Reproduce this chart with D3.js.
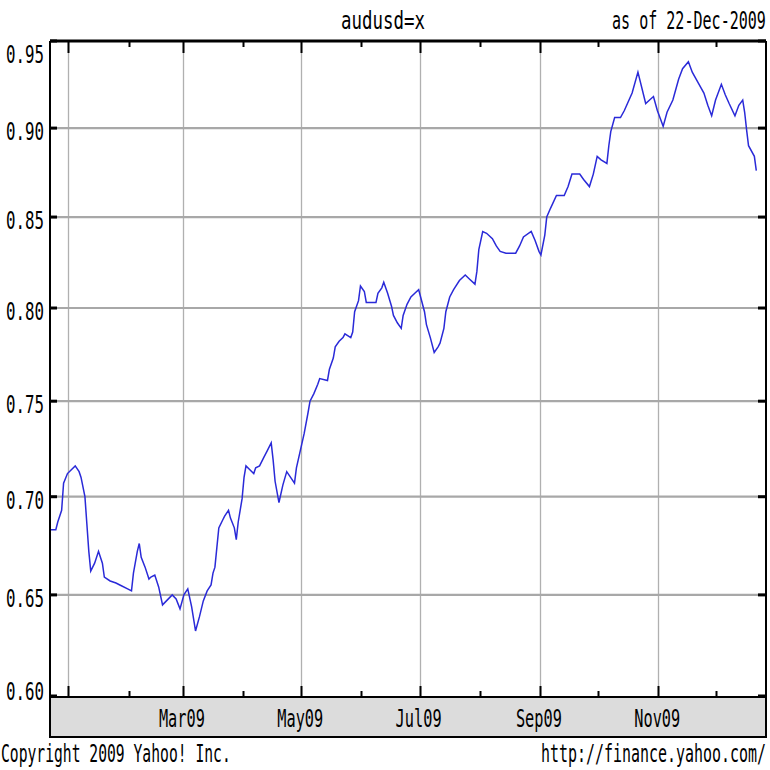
<!DOCTYPE html>
<html>
<head>
<meta charset="utf-8">
<script src="https://cdn.jsdelivr.net/npm/d3@7"></script>
<style>
  html, body { margin: 0; padding: 0; background: #fff; }
  svg { display: block; }
  text { font-family: "DejaVu Sans Mono", "Liberation Mono", monospace; fill: #000; }
</style>
</head>
<body>
<svg id="chart" width="770" height="770"></svg>
<script>
// ---------------- data ----------------
const symbol = "audusd=x";
const asOfText = "as of 22-Dec-2009";
const copyrightText = "Copyright 2009 Yahoo! Inc.";
const urlText = "http://finance.yahoo.com/";

const startDate = "2008-12-22";
const endDate = "2009-12-26";

// days since startDate
const dayOffsets = [
  0,3,4,6,7,9,11,13,15,16,
  18,19,20,21,23,25,27,28,31,34,
  36,40,42,43,45,46,47,49,51,52,
  54,56,58,60,62,63,65,67,69,71,
  73,75,77,79,81,83,84,85,86,87,
  89,90,92,93,95,96,97,99,100,101,
  103,105,106,108,110,112,114,115,116,118,
  120,122,124,126,127,129,131,133,134,136,
  138,139,143,144,146,147,149,151,152,155,
  156,157,159,160,162,163,168,169,171,172,
  174,176,177,179,181,182,184,186,188,190,
  191,193,194,196,198,200,201,203,204,206,
  208,211,214,216,219,220,221,223,225,228,
  230,232,235,240,242,244,248,250,252,253,
  255,256,258,261,265,267,269,273,275,278,
  280,282,284,287,288,289,291,294,296,298,
  300,303,307,309,311,313,316,318,321,324,
  326,329,331,334,337,339,341,343,346,348,
  350,353,355,357,358,359,360,363,364
];

const closes = [
  .683,.683,.687,.693,.707,.712,.714,.716,.713,.710,
  .700,.686,.672,.662,.666,.672,.666,.659,.657,.656,
  .655,.653,.652,.661,.672,.676,.669,.664,.658,.659,
  .660,.654,.645,.647,.649,.650,.648,.643,.650,.653,
  .644,.632,.639,.647,.652,.655,.661,.664,.674,.684,
  .688,.690,.693,.689,.684,.678,.687,.699,.710,.716,
  .714,.712,.715,.716,.720,.724,.728,.719,.708,.697,
  .706,.713,.710,.707,.715,.724,.733,.744,.750,.754,
  .759,.762,.761,.767,.773,.779,.782,.784,.786,.784,
  .787,.798,.804,.812,.809,.803,.803,.808,.811,.814,
  .808,.801,.796,.792,.789,.796,.802,.806,.808,.810,
  .806,.798,.791,.784,.776,.779,.781,.789,.798,.806,
  .810,.815,.818,.816,.813,.820,.832,.842,.841,.838,
  .834,.831,.830,.830,.834,.839,.842,.837,.831,.829,
  .840,.850,.855,.862,.862,.867,.874,.874,.871,.867,
  .874,.884,.882,.880,.890,.898,.906,.906,.910,.915,
  .920,.932,.914,.916,.918,.910,.901,.909,.916,.928,
  .934,.938,.932,.926,.920,.913,.907,.916,.925,.919,
  .914,.907,.913,.916,.909,.899,.890,.884,.876
];

const yTicks = [0.60, 0.65, 0.70, 0.75, 0.80, 0.85, 0.90, 0.95];
const yTickLabels = ["0.60", "0.65", "0.70", "0.75", "0.80", "0.85", "0.90", "0.95"];
const yDomain = [0.60, 0.95];

const majorMonths = ["2009-01-01","2009-03-01","2009-05-01","2009-07-01","2009-09-01","2009-11-01"];
const minorMonths = ["2009-02-01","2009-04-01","2009-06-01","2009-08-01","2009-10-01","2009-12-01"];
const labelMonths = ["2009-03-01","2009-05-01","2009-07-01","2009-09-01","2009-11-01"];
const monthLabels = ["Mar09","May09","Jul09","Sep09","Nov09"];

// ---------------- layout ----------------
const L = 50, R = 766, T = 41, B = 697, bandB = 737;
const parse = d3.utcParse("%Y-%m-%d");
const t0 = parse(startDate);

const data = dayOffsets.map((d, i) => ({ date: d3.utcDay.offset(t0, d), v: closes[i] }));

const x = d3.scaleUtc().domain([t0, parse(endDate)]).range([L, R]);
const y = d3.scalePow().exponent(0.62).domain(yDomain).range([B - 1, T]);

const svg = d3.select("#chart");

// condensed text helper: draws text and squeezes it horizontally to a target width
function condensedText(parent, str, left, baseline, width, fs) {
  const t = parent.append("text").attr("x", 0).attr("y", 0).attr("font-size", fs).text(str);
  const natural = t.node().getComputedTextLength();
  t.attr("transform", `translate(${left},${baseline}) scale(${width / natural},1)`);
  return t;
}

// gridlines
svg.append("g").selectAll("line").data(majorMonths).join("line")
  .attr("x1", d => Math.round(x(parse(d))) - 0.5).attr("x2", d => Math.round(x(parse(d))) - 0.5)
  .attr("y1", T).attr("y2", B)
  .attr("stroke", "#b0b0b0").attr("stroke-width", 1.3);

svg.append("g").selectAll("line").data(yTicks.filter(v => v > yDomain[0] && v < yDomain[1])).join("line")
  .attr("x1", L).attr("x2", R)
  .attr("y1", d => y(d)).attr("y2", d => y(d))
  .attr("stroke", "#a8a8a8").attr("stroke-width", 2.2);

// price line
svg.append("path").datum(data)
  .attr("fill", "none")
  .attr("stroke", "#2a2ad8")
  .attr("stroke-width", 1.5)
  .attr("stroke-linejoin", "miter")
  .attr("d", d3.line().x(d => x(d.date)).y(d => y(d.v)));

// band below plot
svg.append("rect").attr("x", L).attr("y", B).attr("width", R - L).attr("height", bandB - B)
  .attr("fill", "#dcdcdc").attr("stroke", "#000").attr("stroke-width", 2);

// plot frame (top + left + right)
svg.append("line").attr("x1", L).attr("x2", R).attr("y1", T).attr("y2", T).attr("stroke", "#000").attr("stroke-width", 3);
svg.append("line").attr("x1", L).attr("x2", L).attr("y1", T).attr("y2", B).attr("stroke", "#000").attr("stroke-width", 2);
svg.append("line").attr("x1", R).attr("x2", R).attr("y1", T).attr("y2", B).attr("stroke", "#000").attr("stroke-width", 2);

// month ticks top and bottom
const ticks = svg.append("g").attr("stroke", "#000").attr("stroke-width", 2);
majorMonths.forEach(m => {
  const xx = Math.round(x(parse(m))) - 0.5;
  ticks.append("line").attr("x1", xx).attr("x2", xx).attr("y1", T).attr("y2", T + 12);
  ticks.append("line").attr("x1", xx).attr("x2", xx).attr("y1", B).attr("y2", B - 11);
});
minorMonths.forEach(m => {
  const xx = Math.round(x(parse(m))) - 0.5;
  ticks.append("line").attr("x1", xx).attr("x2", xx).attr("y1", T).attr("y2", T + 6);
  ticks.append("line").attr("x1", xx).attr("x2", xx).attr("y1", B).attr("y2", B - 6);
});
// value ticks left and right
yTicks.forEach(v => {
  ticks.append("line").attr("x1", L).attr("x2", L + 7).attr("y1", y(v)).attr("y2", y(v)).attr("stroke-width", 3);
  ticks.append("line").attr("x1", R - 8).attr("x2", R).attr("y1", y(v)).attr("y2", y(v)).attr("stroke-width", 3);
});

const fs = 24;
// y labels (right-aligned at x=44)
const yLab = svg.append("g");
yTicks.forEach((v, i) => {
  const base = Math.max(T + 13, Math.min(B - 6, y(v) + 3)) + 9;
  condensedText(yLab, yTickLabels[i], 44 - 38, base, 38, fs);
});

// month labels centred on gridlines
const xLab = svg.append("g");
labelMonths.forEach((m, i) => {
  const cx = x(parse(m)) - 2;
  condensedText(xLab, monthLabels[i], cx - 23, 727, 46, fs);
});

// header & footer texts
condensedText(svg, symbol, 341, 29, 84, fs);
condensedText(svg, asOfText, 612, 29, 154, fs);
condensedText(svg, copyrightText, 1, 762, 230, fs);
condensedText(svg, urlText, 541, 762, 225, fs);
</script>
</body>
</html>
